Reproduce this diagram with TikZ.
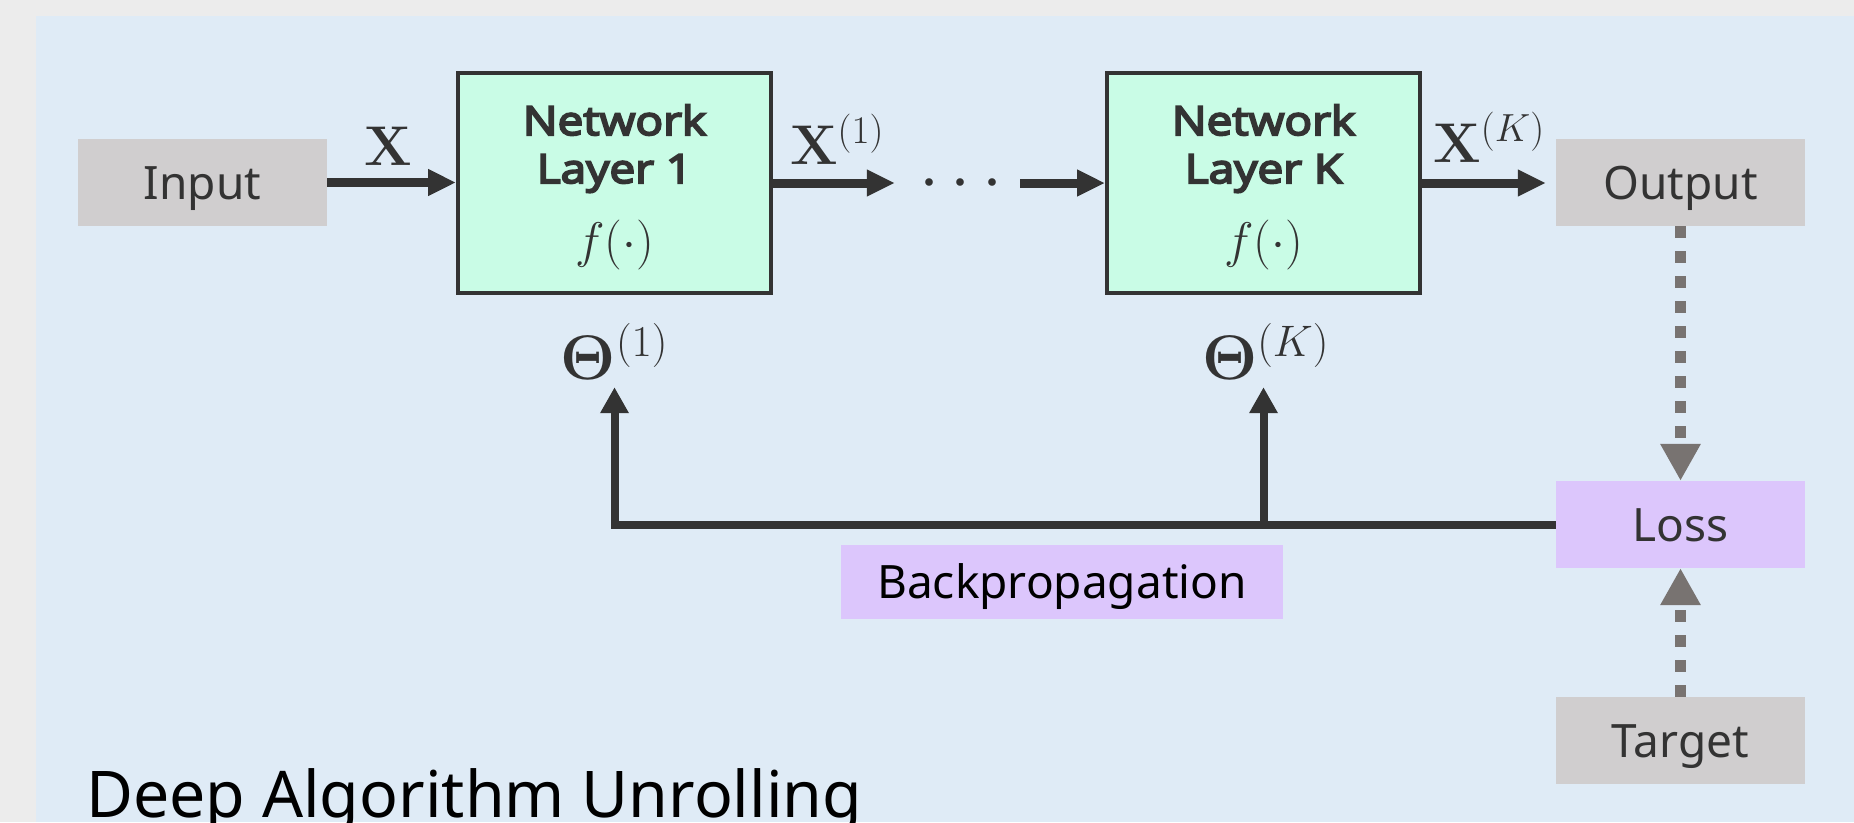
\RequirePackage{fix-cm}
\documentclass[tikz,border=0pt]{standalone}
\usepackage[no-math]{fontspec}
\newfontfamily\labelfont{Noto Sans}
\newfontfamily\headfont{Open Sans}[AutoFakeBold=5, FakeStretch=1.15]
\usetikzlibrary{arrows.meta}

\definecolor{pagegray}{HTML}{ECECEC}
\definecolor{panelblue}{HTML}{DFEBF6}
\definecolor{boxgray}{HTML}{D0CECF}
\definecolor{layermint}{HTML}{C9FCE6}
\definecolor{losspurple}{HTML}{DCC6FC}
\definecolor{ink}{HTML}{333333}
\definecolor{dashgray}{HTML}{787371}

\begin{document}
\begin{tikzpicture}[x=1pt,y=-1pt,
  plainbox/.style={fill=boxgray, minimum width=249pt, minimum height=87pt,
    inner sep=0pt, text=ink, font=\labelfont\fontsize{46}{46}\selectfont,
    text height=33pt, text depth=0pt},
  lossbox/.style={plainbox, fill=losspurple},
  layerbox/.style={draw=ink, line width=4pt, fill=layermint,
    minimum width=313pt, minimum height=220pt, inner sep=0pt},
  layertext/.style={font=\headfont\bfseries\fontsize{40}{40}\selectfont,
    text=ink, anchor=base, inner sep=0pt},
  mathlbl/.style={text=ink, inner sep=0pt, anchor=base,
    font=\fontsize{56}{56}\selectfont},
  paramlbl/.style={mathlbl, font=\fontsize{63}{63}\selectfont},
  fnlbl/.style={mathlbl, font=\fontsize{50}{50}\selectfont},
  flow/.style={draw=ink, line width=9pt, -{Triangle[length=28pt,width=25pt]}},
  feed/.style={draw=ink, line width=8pt, -{Triangle[length=26pt,width=27pt]}},
  dashflow/.style={draw=dashgray, line width=11pt, dash pattern=on 12pt off 13pt,
    -{Triangle[length=37pt,width=38pt]}}
]
\useasboundingbox (0,0) rectangle (1854,822);
\clip (0,0) rectangle (1854,822);
\fill[pagegray] (0,0) rectangle (1854,822);
\fill[panelblue] (35.6,15.7) rectangle (1854,822);

% forward chain
\node[plainbox] (input) at (202.5,182.5) {Input};

\node[layerbox] (l1) at (614.5,183) {};
\node[layertext] (l1a) at (614.5,135) {Network};
\node[layertext] (l1b) at (614.5,183) {Layer 1};
\node[fnlbl] (f1) at (614.5,257.5) {$f(\cdot)$};

\node[mathlbl, font=\fontsize{72}{72}\selectfont] (dots) at (961,200) {$\cdots$};

\node[layerbox] (lk) at (1263.5,183) {};
\node[layertext] (lka) at (1263.5,135) {Network};
\node[layertext] (lkb) at (1263.5,183) {Layer K};
\node[fnlbl] (fk) at (1263.5,257.5) {$f(\cdot)$};

\node[plainbox] (out) at (1680.5,182.5) {Output};
\node[lossbox] (loss) at (1680.5,524.5) {Loss};
\node[plainbox] (tgt) at (1680.5,740.5) {Target};
\node[lossbox, minimum width=442pt, minimum height=74pt, text=black]
  (bp) at (1062,582) {Backpropagation};

% signal labels
\node[mathlbl] (xin) at (388.5,165) {$\mathbf{X}$};
\node[mathlbl] (x1) at (837,164) {$\mathbf{X}^{(1)}$};
\node[mathlbl] (xk) at (1489,162) {$\mathbf{X}^{(K)}$};
\node[paramlbl] (th1) at (614.5,379) {$\mathbf{\Theta}^{(1)}$};
\node[paramlbl] (thk) at (1265.5,379) {$\mathbf{\Theta}^{(K)}$};

% forward arrows
\draw[flow] (input.east) -- (input.east -| l1.west);
\draw[flow, shorten >=24pt] (l1.east) -- (l1.east -| dots.west);
\draw[flow, shorten <=17pt] (lk.west -| dots.east) -- (lk.west);
\draw[flow, shorten >=10pt] (lk.east) -- (lk.east -| out.west);

% parameter updates
\draw[feed, shorten >=8pt] (loss.west) -- (loss.west -| l1.south) -- (l1.south |- th1.south);
\draw[feed, shorten >=8pt] (loss.west -| lk.south) -- (lk.south |- thk.south);

% loss inputs
\draw[dashflow] (out.south) -- (loss.north);
\draw[dashflow] (tgt.north) -- (loss.south);

\node[anchor=base west, inner sep=0pt, text=black,
  font=\labelfont\fontsize{64.4}{64.4}\selectfont] (title) at (86,817)
  {Deep Algorithm Unrolling};
\end{tikzpicture}
\end{document}
